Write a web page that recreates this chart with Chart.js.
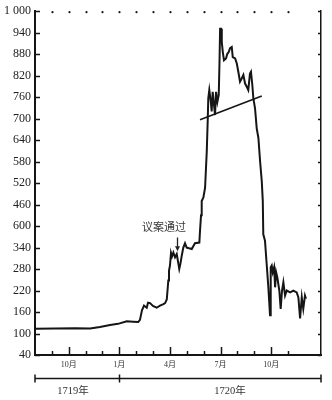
<!DOCTYPE html>
<html>
<head>
<meta charset="utf-8">
<script src="https://cdn.jsdelivr.net/npm/chart.js@4"></script>
<style>
  body { margin: 0; background: #fff; }
  #wrap { width: 332px; height: 400px; }
</style>
</head>
<body>
<div id="wrap"><canvas id="chart" width="332" height="400"></canvas></div>
<script>
// months counted from Aug 1719 (0) ; price in pounds
const months = [0, 1.19, 2.37, 3.26, 3.85, 4.45, 4.92, 5.44, 5.81, 6.12,
  6.22, 6.34, 6.46, 6.62, 6.70, 6.82, 6.99, 7.21, 7.41, 7.61,
  7.71, 7.81, 7.87, 7.90, 7.94, 8.00, 8.06, 8.12, 8.20, 8.30,
  8.40, 8.48, 8.55, 8.62, 8.70, 8.79, 8.89, 8.99, 9.13, 9.29,
  9.48, 9.74, 9.78, 9.84, 9.88, 9.98, 10.08, 10.18, 10.24, 10.27,
  10.33, 10.42, 10.47, 10.53, 10.61, 10.67, 10.73, 10.81, 10.89, 10.94,
  10.97, 11.03, 11.07, 11.13, 11.20, 11.32, 11.40, 11.48, 11.56, 11.66,
  11.72, 11.86, 11.96, 12.05, 12.15, 12.25, 12.35, 12.45, 12.55, 12.64,
  12.74, 12.80, 12.88, 12.94, 13.04, 13.14, 13.24, 13.34, 13.44, 13.50,
  13.53, 13.63, 13.73, 13.83, 13.93, 13.97, 14.03, 14.09, 14.17, 14.23,
  14.29, 14.36, 14.48, 14.56, 14.64, 14.72, 14.82, 14.92, 15.12, 15.31,
  15.51, 15.61, 15.71, 15.81, 15.90, 16.00, 16.06];
const prices = [113, 114, 115, 114, 118, 124, 127, 134, 133, 132,
  138, 165, 178, 172, 186, 185, 177, 172, 178, 182,
  185, 195, 230, 248, 275, 290, 325, 315, 326, 313,
  322, 300, 280, 295, 318, 340, 352, 340, 338, 336,
  352, 354, 387, 430, 470, 480, 507, 609, 701, 757,
  780, 747, 720, 775, 738, 710, 775, 747, 766, 870,
  951, 951, 914, 886, 863, 868, 881, 886, 897, 900,
  872, 868, 854, 831, 803, 812, 822, 798, 789, 780,
  826, 831, 794, 757, 729, 673, 646, 581, 525, 470,
  377, 359, 294, 229, 151, 285, 290, 271, 285, 229,
  271, 257, 220, 169, 220, 243, 206, 220, 215, 220,
  215, 201, 142, 201, 169, 206, 197];

// trend line drawn on the chart
const trendMonths = [9.78, 13.44];
const trendPrices = [697, 763];

const tickMonths = [1, 2, 3, 4, 5, 6, 7, 8, 9, 10, 11, 12, 13, 14, 15];
const tickNames = ['', '10月', '', '', '1月', '', '', '4月', '', '', '7月', '', '', '10月', ''];
const yTickValues = [40, 100, 160, 220, 280, 340, 400, 460, 520, 580, 640, 700, 760, 820, 880, 940, 1000];
const yTickNames = ['40', '100', '160', '220', '280', '340', '600', '460', '520', '580', '640', '700', '760', '820', '880', '940', '1 000'];

const years = ['1719年', '1720年'];
const yearLabelAt = [2.25, 11.56];
const yearSplit = 5;

const note = { text: '议案通过', x: 7.65, yText: 398, arrowX: 8.40, arrowFrom: 368, arrowTo: 330 };

const ink = '#151515';
const serif = "'Liberation Serif', 'DejaVu Serif', serif";
const cjk = "'Liberation Serif', 'Noto Sans CJK SC', serif";

function seg(ctx, x1, y1, x2, y2) {
  ctx.beginPath();
  ctx.moveTo(x1, y1);
  ctx.lineTo(x2, y2);
  ctx.stroke();
}

const inkPlugin = {
  id: 'ink',
  afterDraw(chart) {
    const { ctx, chartArea: a, scales: { x, y } } = chart;
    ctx.save();
    ctx.strokeStyle = ink;
    ctx.fillStyle = ink;

    // inward ticks on left and right
    ctx.lineWidth = 1.5;
    y.ticks.forEach(t => {
      const py = Math.round(y.getPixelForValue(t.value)) + 0.5;
      seg(ctx, a.left, py, a.left + 5, py);
      seg(ctx, a.right - 3, py, a.right, py);
    });

    // month ticks and the dots along the top
    x.ticks.forEach((t, i) => {
      const px = Math.round(x.getPixelForValue(t.value)) + 0.5;
      const len = tickNames[i] ? 8 : 4;
      seg(ctx, px, a.bottom, px, a.bottom - len);
      ctx.beginPath();
      ctx.arc(px, a.top + 1, 1.1, 0, Math.PI * 2);
      ctx.fill();
    });

    // year bracket
    const by = a.bottom + 23.5;
    ctx.lineWidth = 1.5;
    seg(ctx, a.left, by, a.right, by);
    seg(ctx, a.left, by - 4, a.left, by + 4);
    seg(ctx, a.right, by - 4, a.right, by + 4);
    const sx = Math.round(x.getPixelForValue(yearSplit)) + 0.5;
    seg(ctx, sx, by - 4, sx, by + 4);

    ctx.font = '10.5px ' + cjk;
    ctx.fillStyle = '#333';
    ctx.textAlign = 'center';
    ctx.textBaseline = 'middle';
    years.forEach((s, i) => ctx.fillText(s, x.getPixelForValue(yearLabelAt[i]), a.bottom + 36));

    // note with arrow
    ctx.font = "11px 'Noto Sans CJK SC', sans-serif";
    ctx.fillStyle = '#3a3a3a';
    ctx.fillText(note.text, x.getPixelForValue(note.x), y.getPixelForValue(note.yText));
    const ax = Math.round(x.getPixelForValue(note.arrowX)) + 0.5;
    const ay1 = y.getPixelForValue(note.arrowFrom);
    const ay2 = y.getPixelForValue(note.arrowTo);
    ctx.strokeStyle = '#222';
    ctx.lineWidth = 1.3;
    seg(ctx, ax, ay1, ax, ay2 - 4);
    ctx.fillStyle = '#222';
    ctx.beginPath();
    ctx.moveTo(ax - 2.5, ay2 - 5);
    ctx.lineTo(ax + 2.5, ay2 - 5);
    ctx.lineTo(ax, ay2);
    ctx.closePath();
    ctx.fill();
    ctx.restore();
  }
};

const ctx = document.getElementById('chart');

const myChart = new Chart(ctx, {
  type: 'line',
  data: {
    datasets: [{
      data: months.map((m, i) => ({ x: m, y: prices[i] })),
      borderColor: ink,
      borderWidth: 2,
      pointRadius: 0,
      tension: 0
    }, {
      data: trendMonths.map((m, i) => ({ x: m, y: trendPrices[i] })),
      borderColor: ink,
      borderWidth: 1.6,
      pointRadius: 0
    }]
  },
  options: {
    responsive: false,
    animation: false,
    devicePixelRatio: 1,
    layout: { padding: { top: 9, right: 11, left: 0, bottom: 0 } },
    plugins: { legend: { display: false }, tooltip: { enabled: false } },
    scales: {
      x: {
        type: 'linear',
        min: 0,
        max: 16.95,
        afterBuildTicks: axis => { axis.ticks = tickMonths.map(v => ({ value: v })); },
        afterFit: axis => { axis.height = 45; },
        grid: { display: false, drawTicks: false },
        border: { display: true, color: ink, width: 2 },
        ticks: {
          autoSkip: false,
          maxRotation: 0,
          padding: 5,
          color: '#333',
          font: { family: cjk, size: 8 },
          callback: function(value) {
            return tickNames[tickMonths.indexOf(value)];
          }
        }
      },
      y: {
        min: 40,
        max: 1000,
        afterBuildTicks: axis => { axis.ticks = yTickValues.map(v => ({ value: v })); },
        afterFit: axis => { axis.width = 35; },
        grid: { display: false, drawTicks: false },
        border: { display: true, color: ink, width: 2 },
        ticks: {
          padding: 4,
          color: '#222',
          font: { family: serif, size: 12 },
          callback: function(value) {
            return yTickNames[yTickValues.indexOf(value)];
          }
        }
      },
      y2: {
        position: 'right',
        min: 40,
        max: 1000,
        afterFit: axis => { axis.width = 0; },
        grid: { display: false, drawTicks: false },
        border: { display: true, color: ink, width: 1.5 },
        ticks: { display: false }
      }
    }
  },
  plugins: [inkPlugin]
});
</script>
</body>
</html>
